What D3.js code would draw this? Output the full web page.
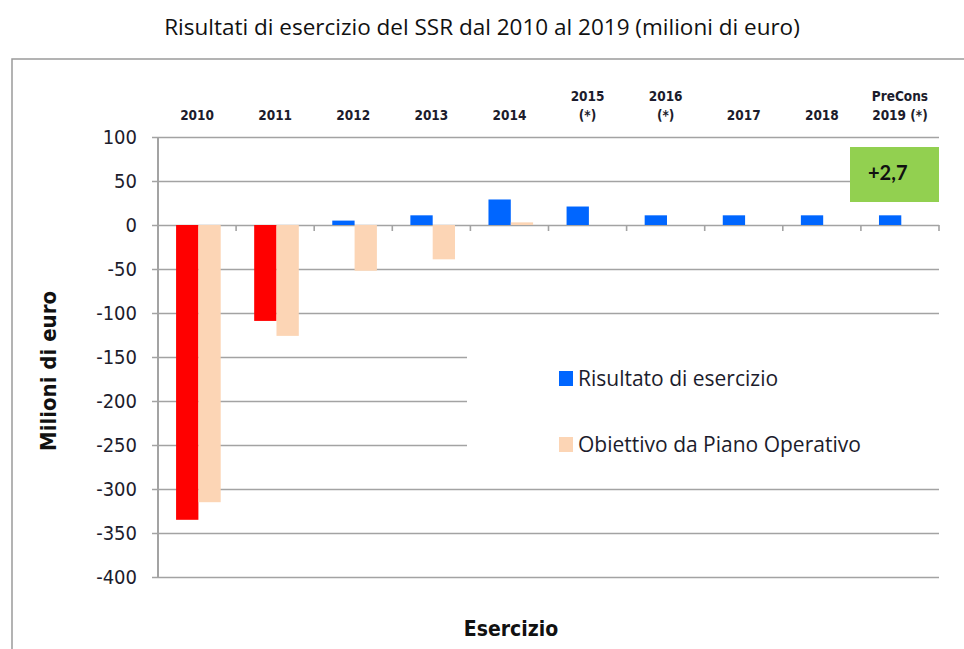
<!DOCTYPE html>
<html>
<head>
<meta charset="utf-8">
<script src="https://cdn.jsdelivr.net/npm/d3@7"></script>
<style>
	body { margin: 0; background: #fff; }
	svg { display: block; }
</style>
</head>
<body>
<svg id="chart" width="964" height="649"></svg>
<script>
// esercizi (le etichette in alto possono andare su due righe)
var categories = ["2010", "2011", "2012", "2013", "2014", "2015", "2016", "2017", "2018", "2019"];
var tickLabels = [["2010"], ["2011"], ["2012"], ["2013"], ["2014"], ["2015", "(*)"], ["2016", "(*)"], ["2017"], ["2018"], ["PreCons", "2019 (*)"]];

// milioni di euro
var risultato = [-335, -109, 5, 11, 29, 21, 11, 11, 11, 11];
var obiettivo = [-315, -126, -52, -39, 3, null, null, null, null, null];

var yTicks = [100, 50, 0, -50, -100, -150, -200, -250, -300, -350, -400];
var seriesNames = ["Risultato di esercizio", "Obiettivo da Piano Operativo"];
var boxLabel = "+2,7";

var svg = d3.select("#chart");

var x = d3.scaleBand()
	.domain(categories)
	.range([158, 939]);

var y = d3.scaleLinear()
	.domain([-400, 100])
	.range([577, 137]);

var x1 = d3.scaleBand()
	.domain(["risultato", "obiettivo"])
	.range([0, x.bandwidth()])
	.paddingOuter(0.75)
	.align(0.54);

var grey = "#a3a3a3";
var condensed = "'DejaVu Sans Condensed', 'DejaVu Sans', sans-serif";

// cornice esterna
svg.append("path")
	.attr("d", "M12,649 V59 H964")
	.attr("fill", "none")
	.attr("stroke", "#9a9a9a")
	.attr("stroke-width", 1.5);

svg.append("text")
	.attr("x", 482)
	.attr("y", 35)
	.attr("text-anchor", "middle")
	.style("font-family", "'Open Sans', sans-serif")
	.style("font-size", "22.5px")
	.attr("fill", "#111")
	.text("Risultati di esercizio del SSR dal 2010 al 2019 (milioni di euro)");

// griglia + asse y
var yAxis = d3.axisLeft(y)
	.tickValues(yTicks)
	.tickSize(-(939 - 158))
	.tickSizeOuter(0)
	.tickPadding(21)
	.tickFormat(function(d) { return String(d); });

var gy = svg.append("g")
	.attr("transform", "translate(158,0)")
	.call(yAxis);

gy.select(".domain").remove();
gy.selectAll(".tick line")
	.attr("x1", -6)
	.attr("stroke", grey)
	.attr("stroke-width", 1.6);
gy.selectAll(".tick text")
	.attr("fill", "#1c1c2c")
	.style("font-family", condensed)
	.style("font-size", "20px");

svg.append("line")
	.attr("x1", 158).attr("x2", 158)
	.attr("y1", y(100)).attr("y2", y(-400))
	.attr("stroke", grey)
	.attr("stroke-width", 2);

// asse categorie sullo zero, tacche verso il basso
svg.append("g")
	.selectAll("line")
	.data(categories)
	.enter()
	.append("line")
	.attr("x1", function(d) { return x(d) + x.bandwidth(); })
	.attr("x2", function(d) { return x(d) + x.bandwidth(); })
	.attr("y1", y(0))
	.attr("y2", y(0) + 6)
	.attr("stroke", grey)
	.attr("stroke-width", 1.6);

// etichette in alto
var labels = svg.append("g")
	.selectAll("text")
	.data(categories)
	.enter()
	.append("text")
	.attr("text-anchor", "middle")
	.attr("fill", "#1c1c2c")
	.style("font-family", condensed)
	.style("font-weight", "bold")
	.style("font-size", "13.5px");

labels.each(function(d, i) {
	var lines = tickLabels[i];
	var t = d3.select(this);
	lines.forEach(function(l, j) {
		t.append("tspan")
			.attr("x", x(d) + x.bandwidth() / 2)
			.attr("y", 120 - (lines.length - 1 - j) * 19)
			.text(l);
	});
});

// barre
var bars = svg.append("g");

bars.selectAll("rect.ris")
	.data(risultato)
	.enter()
	.append("rect")
	.attr("class", "ris")
	.attr("x", function(d, i) { return x(categories[i]) + x1("risultato"); })
	.attr("width", x1.bandwidth())
	.attr("y", function(d) { return y(Math.max(0, d)); })
	.attr("height", function(d) { return Math.abs(y(d) - y(0)); })
	.attr("fill", function(d) { return d < 0 ? "#ff0000" : "#0066ff"; });

bars.selectAll("rect.obi")
	.data(obiettivo.map(function(v, i) { return { cat: categories[i], v: v }; })
		.filter(function(d) { return d.v != null; }))
	.enter()
	.append("rect")
	.attr("class", "obi")
	.attr("x", function(d) { return x(d.cat) + x1("obiettivo"); })
	.attr("width", x1.bandwidth())
	.attr("y", function(d) { return y(Math.max(0, d.v)); })
	.attr("height", function(d) { return Math.abs(y(d.v) - y(0)); })
	.attr("fill", "#fcd5b5");

// legenda (sfondo bianco sopra la griglia)
var legend = svg.append("g");

legend.append("rect")
	.attr("x", 467)
	.attr("y", 322)
	.attr("width", 480)
	.attr("height", 156)
	.attr("fill", "#fff");

var legendColors = ["#0066ff", "#fcd5b5"];

var items = legend.selectAll("g.item")
	.data(seriesNames)
	.enter()
	.append("g")
	.attr("class", "item")
	.attr("transform", function(d, i) { return "translate(559," + (371 + i * 66) + ")"; });

items.append("rect")
	.attr("width", 14)
	.attr("height", 15)
	.attr("fill", function(d, i) { return legendColors[i]; });

items.append("text")
	.attr("x", 19)
	.attr("y", 15)
	.attr("fill", "#1c1c2c")
	.style("font-family", "'Open Sans', sans-serif")
	.style("font-size", "21px")
	.text(function(d) { return d; });

// riquadro verde
svg.append("rect")
	.attr("x", 850)
	.attr("y", 147)
	.attr("width", 89)
	.attr("height", 55)
	.attr("fill", "#92d050");

svg.append("text")
	.attr("x", 868)
	.attr("y", 180)
	.attr("fill", "#111")
	.style("font-family", "Lato, sans-serif")
	.style("font-weight", "bold")
	.style("font-size", "20px")
	.text(boxLabel);

// titoli degli assi
svg.append("text")
	.attr("transform", "translate(56,371) rotate(-90)")
	.attr("text-anchor", "middle")
	.attr("fill", "#111")
	.style("font-family", condensed)
	.style("font-weight", "bold")
	.style("font-size", "22px")
	.text("Milioni di euro");

svg.append("text")
	.attr("x", 511)
	.attr("y", 636)
	.attr("text-anchor", "middle")
	.attr("fill", "#111")
	.style("font-family", condensed)
	.style("font-weight", "bold")
	.style("font-size", "21px")
	.text("Esercizio");
</script>
</body>
</html>
